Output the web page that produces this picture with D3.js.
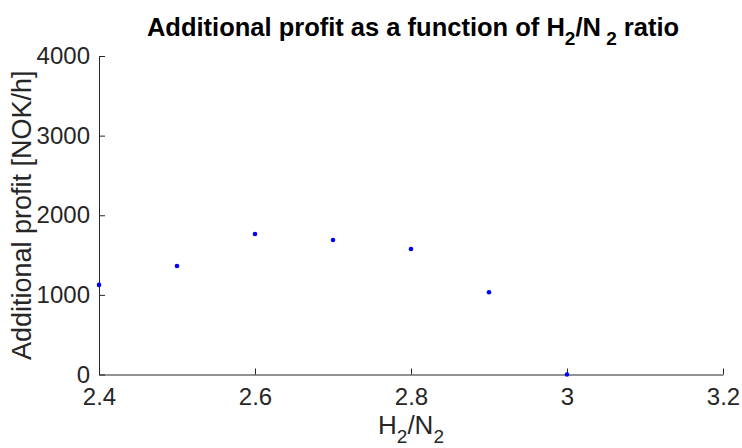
<!DOCTYPE html>
<html>
<head>
<meta charset="utf-8">
<script src="https://cdn.jsdelivr.net/npm/d3@7"></script>
<style>
  body { margin: 0; background: #fff; }
  svg { display: block; font-family: "Liberation Sans", Arial, sans-serif; }
</style>
</head>
<body>
<div id="chart"></div>
<script>
// H2/N2 ratio and the additional profit
const ratios = [2.4, 2.5, 2.6, 2.7, 2.8, 2.9, 3.0];
const profits = [1125, 1363, 1765, 1690, 1577, 1033, 0];
const xTicks = [2.4, 2.6, 2.8, 3.0, 3.2];
const yTicks = [0, 1000, 2000, 3000, 4000];

const width = 742, height = 448;
const axisColor = "#262626";

const svg = d3.select("#chart").append("svg")
  .attr("width", width)
  .attr("height", height);

const x = d3.scaleLinear().domain([2.4, 3.2]).range([99, 723]);
const y = d3.scaleLinear().domain([0, 4000]).range([374.5, 56]);

// x axis, ticks pointing inward like MATLAB
const xAxis = svg.append("g")
  .attr("transform", `translate(0, ${y(0)})`)
  .call(d3.axisBottom(x).tickValues(xTicks).tickFormat(d3.format("~g"))
    .tickSizeInner(-6).tickSizeOuter(0).tickPadding(13));

const yAxis = svg.append("g")
  .attr("transform", `translate(${x(2.4)}, 0)`)
  .call(d3.axisLeft(y).tickValues(yTicks).tickFormat(d3.format("d"))
    .tickSizeInner(-6).tickSizeOuter(0).tickPadding(9));

[xAxis, yAxis].forEach(g => {
  g.select(".domain").attr("stroke", axisColor);
  g.selectAll(".tick line").attr("stroke", axisColor);
  g.selectAll(".tick text")
    .attr("fill", axisColor)
    .attr("font-size", "24px")
    .attr("font-family", "Liberation Sans, Arial, sans-serif");
});

// data points
svg.append("g").selectAll("circle")
  .data(ratios)
  .join("circle")
  .attr("cx", d => x(d))
  .attr("cy", (d, i) => y(profits[i]))
  .attr("r", 2.3)
  .attr("fill", "#0000ff");

// title with subscripts
const title = svg.append("text")
  .attr("x", 413)
  .attr("y", 36)
  .attr("text-anchor", "middle")
  .attr("font-size", "25.5px")
  .attr("font-weight", "bold")
  .attr("fill", "#000");
title.append("tspan").text("Additional profit as a function of H");
title.append("tspan").attr("dy", 9).attr("font-size", "19px").text("2");
title.append("tspan").attr("dy", -9).text("/N");
title.append("tspan").attr("dy", 9).attr("font-size", "19px").text(" 2");
title.append("tspan").attr("dy", -9).text(" ratio");

// x label
const xLabel = svg.append("text")
  .attr("x", 411)
  .attr("y", 434)
  .attr("text-anchor", "middle")
  .attr("font-size", "26px")
  .attr("fill", axisColor);
xLabel.append("tspan").text("H");
xLabel.append("tspan").attr("dy", 9).attr("font-size", "19px").text("2");
xLabel.append("tspan").attr("dy", -9).text("/N");
xLabel.append("tspan").attr("dy", 9).attr("font-size", "19px").text("2");

// y label
svg.append("text")
  .attr("transform", `translate(31, ${(y(0) + y(4000)) / 2}) rotate(-90)`)
  .attr("text-anchor", "middle")
  .attr("font-size", "27px")
  .attr("fill", axisColor)
  .text("Additional profit [NOK/h]");
</script>
</body>
</html>
